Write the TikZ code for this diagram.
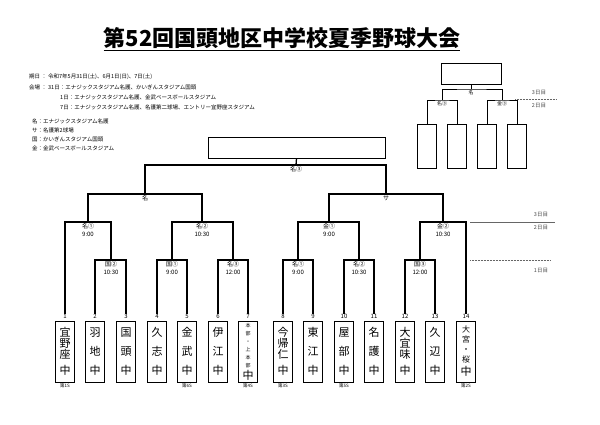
\documentclass[tikz,border=0pt]{standalone}
\usepackage{fontspec}
\setmainfont{Noto Sans CJK JP}
\usepackage{tikz}
\usetikzlibrary{positioning}

\begin{document}
\begin{tikzpicture}[x=1pt,y=-1pt,
    team/.style={draw=black, line width=0.9pt, minimum width=19pt, minimum height=61pt, inner sep=0pt, align=center, font=\fontsize{11}{14}\selectfont},
    numlab/.style={font=\fontsize{6}{6}\selectfont, inner sep=0.5pt},
    matchlab/.style={font=\fontsize{6}{8}\selectfont, align=center, below, inner sep=1.5pt},
    seedlab/.style={font=\fontsize{4.5}{5}\selectfont, below, inner sep=1pt},
    info/.style={font=\fontsize{5.5}{6}\selectfont, anchor=west, inner sep=0pt},
    daylab/.style={font=\fontsize{5.5}{6}\selectfont, text=black!70, inner sep=0pt},
    line/.style={line width=1.3pt},
    winbox/.style={draw=black, line width=0.9pt, inner sep=0pt}
  ]
  \useasboundingbox (0,0) rectangle (600,424);

  % Title
  \node[font=\fontsize{22}{22}\selectfont\bfseries, inner sep=0pt] (title) at (282,39)
    {\underline{第52回国頭地区中学校夏季野球大会}};

  % Info
  \node[info] (i1) at (29,77) {期日 ： 令和7年5月31日(土)、6月1日(日)、7日(土)};
  \node[info] (i2) at (29,87) {会場 ： 31日：エナジックスタジアム名護、かいぎんスタジアム国頭};
  \node[info] (i3) at (60,97) {1日：エナジックスタジアム名護、金武ベースボールスタジアム};
  \node[info] (i4) at (60,107) {7日：エナジックスタジアム名護、名護第二球場、エントリー宜野座スタジアム};
  \node[info] (l1) at (32,121) {名：エナジックスタジアム名護};
  \node[info] (l2) at (32,130) {サ：名護第2球場};
  \node[info] (l3) at (32,139) {国：かいぎんスタジアム国頭};
  \node[info] (l4) at (32,148) {金：金武ベースボールスタジアム};

  % Teams
  \node[team] (t1) at (65,351.5) {宜\\[-3pt]野\\[-3pt]座\\[2pt]中};
  \node[team] (t2) at (95,351.5) {羽\\[5pt]地\\[5pt]中};
  \node[team] (t3) at (126,351.5) {国\\[5pt]頭\\[5pt]中};
  \node[team] (t4) at (157,351.5) {久\\[5pt]志\\[5pt]中};
  \node[team] (t5) at (187,351.5) {金\\[5pt]武\\[5pt]中};
  \node[team] (t6) at (218,351.5) {伊\\[5pt]江\\[5pt]中};
  \node[team] (t7) at (248,351.5) {{\fontsize{5}{6}\selectfont 本}\\[-6pt]{\fontsize{5}{6}\selectfont 部}\\[-6pt]{\fontsize{5}{6}\selectfont ・}\\[-6pt]{\fontsize{5}{6}\selectfont 上}\\[-6pt]{\fontsize{5}{6}\selectfont 本}\\[-6pt]{\fontsize{5}{6}\selectfont 部}\\[-2pt]中};
  \node[team] (t8) at (283,351.5) {今\\[-3pt]帰\\[-3pt]仁\\[2pt]中};
  \node[team] (t9) at (313,351.5) {東\\[5pt]江\\[5pt]中};
  \node[team] (t10) at (344,351.5) {屋\\[5pt]部\\[5pt]中};
  \node[team] (t11) at (374,351.5) {名\\[5pt]護\\[5pt]中};
  \node[team] (t12) at (405,351.5) {大\\[-3pt]宜\\[-3pt]味\\[2pt]中};
  \node[team] (t13) at (435,351.5) {久\\[5pt]辺\\[5pt]中};
  \node[team] (t14) at (466,351.5) {{\fontsize{8}{9}\selectfont 大}\\[-4pt]{\fontsize{8}{9}\selectfont 宮}\\[-4pt]{\fontsize{8}{9}\selectfont ・}\\[-4pt]{\fontsize{8}{9}\selectfont 桜}\\[-1pt]中};
  \foreach \t in {1,...,14}
    \node[numlab, above=1pt of t\t] (n\t) {\t};

  % Seeds
  \foreach \t/\s in {1/1,5/6,7/4,8/3,10/5,14/2}
    \node[seedlab] (s\t) at (t\t.south) {第\s S};

  % Match points
  \coordinate (m23) at (111,260);
  \coordinate (m45) at (172,260);
  \coordinate (m67) at (233,260);
  \coordinate (m89) at (298,260);
  \coordinate (m1011) at (359,260);
  \coordinate (m1213) at (420,260);
  \coordinate (qa) at (88,222);
  \coordinate (qb) at (202,222);
  \coordinate (qc) at (329,222);
  \coordinate (qd) at (443,222);
  \coordinate (sa) at (145,194);
  \coordinate (sb) at (386,194);
  \coordinate (fm) at (296,165);
  \node[winbox, minimum width=177pt, minimum height=21pt] (final) at (296.5,147.5) {};

  % Brackets
  \draw[line] (n2.north) |- (m23) -| (n3.north);
  \draw[line] (n4.north) |- (m45) -| (n5.north);
  \draw[line] (n6.north) |- (m67) -| (n7.north);
  \draw[line] (n8.north) |- (m89) -| (n9.north);
  \draw[line] (n10.north) |- (m1011) -| (n11.north);
  \draw[line] (n12.north) |- (m1213) -| (n13.north);
  \draw[line] (n1.north) |- (qa) -| (m23);
  \draw[line] (m45) |- (qb) -| (m67);
  \draw[line] (m89) |- (qc) -| (m1011);
  \draw[line] (m1213) |- (qd) -| (n14.north);
  \draw[line] (qa) |- (sa) -| (qb);
  \draw[line] (qc) |- (sb) -| (qd);
  \draw[line] (sa) |- (fm) -| (sb);
  \draw[line] (fm) -- (final.south);

  % Match labels
  \node[matchlab] at (m23) {国②\\10:30};
  \node[matchlab] at (m45) {国①\\9:00};
  \node[matchlab] at (m67) {名③\\12:00};
  \node[matchlab] at (m89) {名①\\9:00};
  \node[matchlab] at (m1011) {名②\\10:30};
  \node[matchlab] at (m1213) {国③\\12:00};
  \node[matchlab] at (qa) {名①\\9:00};
  \node[matchlab] at (qb) {名②\\10:30};
  \node[matchlab] at (qc) {金①\\9:00};
  \node[matchlab] at (qd) {金②\\10:30};
  \node[matchlab] at (sa) {名};
  \node[matchlab] at (sb) {サ};
  \node[matchlab] at (fm) {名③};

  % Day marks
  \draw[black!60, line width=0.4pt] (470,222) -- (555,222);
  \node[daylab] at (541,215) {3日目};
  \node[daylab] at (541,228) {2日目};
  \draw[black!60, line width=0.5pt, densely dotted] (470,260) -- (550,260);
  \node[daylab] at (541,271) {1日目};

  % Small bracket
  \node[winbox, minimum width=60pt, minimum height=21pt] (pf) at (471,73.5) {};
  \foreach \i/\x in {1/427,2/457,3/487,4/517}
    \node[winbox, minimum width=19pt, minimum height=44pt] (b\i) at (\x,146) {};
  \coordinate (ml) at (442,100);
  \coordinate (mr) at (502,100);
  \coordinate (mt) at (471,89);
  \draw[line width=0.9pt] (b1.north) |- (ml) -| (b2.north);
  \draw[line width=0.9pt] (b3.north) |- (mr) -| (b4.north);
  \draw[line width=0.9pt] (ml) |- (mt) -| (mr);
  \draw[line width=0.9pt] (mt) -- (pf.south);
  \node[matchlab, font=\fontsize{5}{6}\selectfont] at (ml) {名③};
  \node[matchlab, font=\fontsize{5}{6}\selectfont] at (mr) {金③};
  \node[matchlab, font=\fontsize{5}{6}\selectfont] at (mt) {名};
  \draw[black!60, line width=0.5pt, densely dotted] (515,99) -- (556,99);
  \node[daylab] at (539,93) {3日目};
  \node[daylab] at (539,106) {2日目};
\end{tikzpicture}
\end{document}
